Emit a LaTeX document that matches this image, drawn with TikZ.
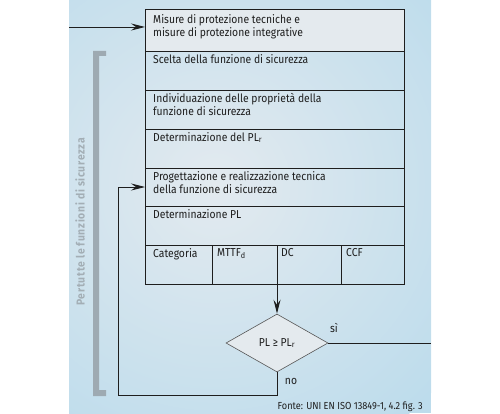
\documentclass[tikz,border=0pt]{standalone}
\usepackage{fontspec}
\setmainfont{Fira Sans}[FakeStretch=0.9]
\usetikzlibrary{arrows.meta,shapes.geometric,calc}
\definecolor{bgblue}{HTML}{BDDCEC}
\definecolor{glow}{HTML}{E3EAEF}
\definecolor{boxgrey}{HTML}{E4EAEE}
\definecolor{bracket}{HTML}{9EAAB2}
\definecolor{vtext}{HTML}{A3AEB5}
\definecolor{ink}{HTML}{1E1E1E}
\begin{document}
\begin{tikzpicture}[x=1pt,y=-1pt,
  line/.style={draw=ink,line width=0.9pt},
  arr/.style={line,-{Stealth[length=14pt,width=7pt,inset=5pt]}},
  cell/.style={draw=ink,line width=0.9pt,rectangle,anchor=north west,inner sep=0pt,outer sep=0pt},
  txt/.style={anchor=north west,inner sep=0pt,font=\fontsize{11.5}{13.5}\selectfont,text=ink,align=left},
  lbl/.style={inner sep=0pt,font=\fontsize{11.5}{13.5}\selectfont,text=ink},
]
\useasboundingbox (0,0) rectangle (500,414);
\fill[bgblue] (69,0) rectangle (431,413);
\begin{scope}
  \clip (69,0) rectangle (431,413);
  \shade[inner color=glow,outer color=bgblue] (215,185) circle (300);
\end{scope}
% bracket
\fill[bracket] (106,51) -- (93,51) -- (93,396) -- (106,396) -- (106,390) -- (99,390) -- (99,56) -- (106,56) -- cycle;
\node[rotate=90,inner sep=0pt,font=\fontsize{11.5}{13}\selectfont\bfseries\addfontfeature{LetterSpace=6},text=vtext] (vt) at (80,222) {Pertutte le funzioni di sicurezza};
% boxes
\node[cell,fill=boxgrey,minimum width=259,minimum height=42] (b1) at (145,9) {};
\node[cell,minimum width=259,minimum height=39] (b2) at (145,51) {};
\node[cell,minimum width=259,minimum height=39] (b3) at (145,90) {};
\node[cell,minimum width=259,minimum height=39] (b4) at (145,129) {};
\node[cell,minimum width=259,minimum height=38] (b5) at (145,168) {};
\node[cell,minimum width=259,minimum height=39] (b6) at (145,206) {};
\node[cell,minimum width=67,minimum height=39] (c1) at (145,245) {};
\node[cell,minimum width=65,minimum height=39] (c2) at (212,245) {};
\node[cell,minimum width=64,minimum height=39] (c3) at (277,245) {};
\node[cell,minimum width=63,minimum height=39] (c4) at (341,245) {};
% texts
\node[txt] (t1) at ($(b1.north west)+(8,5)$) {Misure di protezione tecniche e\\misure di protezione integrative};
\node[txt] (t2) at ($(b2.north west)+(8,3)$) {Scelta della funzione di sicurezza};
\node[txt] (t3) at ($(b3.north west)+(8,3)$) {Individuazione delle proprietà della\\funzione di sicurezza};
\node[txt] (t4) at ($(b4.north west)+(8,3)$) {Determinazione del PL\textsubscript{r}};
\node[txt] (t5) at ($(b5.north west)+(8,3)$) {Progettazione e realizzazione tecnica\\della funzione di sicurezza};
\node[txt] (t6) at ($(b6.north west)+(8,3)$) {Determinazione PL};
\node[txt] (tc1) at ($(c1.north west)+(8,3)$) {Categoria};
\node[txt] (tc2) at ($(c2.north west)+(5,3)$) {MTTF\textsubscript{d}};
\node[txt] (tc3) at ($(c3.north west)+(4,3)$) {DC};
\node[txt] (tc4) at ($(c4.north west)+(5,3)$) {CCF};
% decision
\node[diamond,aspect=1.76,draw=ink!75,line width=0.6pt,fill=boxgrey,minimum width=102,minimum height=58,inner sep=0pt,font=\fontsize{11.5}{13.5}\selectfont,text=ink] (d) at (277,343) {PL ≥ PL\textsubscript{r}};
\node[lbl] (si) at (334,328) {sì};
\node[lbl] (no) at (291,381) {no};
% connectors
\coordinate (in) at (69,27);
\coordinate (out) at (431,343);
\coordinate (lp) at (118,395);
\draw[arr] (in) -- (in -| b1.west);
\draw[arr] (c3.south west) -- (d.north);
\draw[line] (d.east) -- (out);
\draw[arr] (d.south) |- (lp) |- (b5.west);
% source
\node[anchor=base east,inner sep=0pt,font=\fontsize{10.2}{12}\selectfont,text=ink] (src) at (423,409) {Fonte: UNI EN ISO 13849-1, 4.2 fig. 3};
\end{tikzpicture}
\end{document}
